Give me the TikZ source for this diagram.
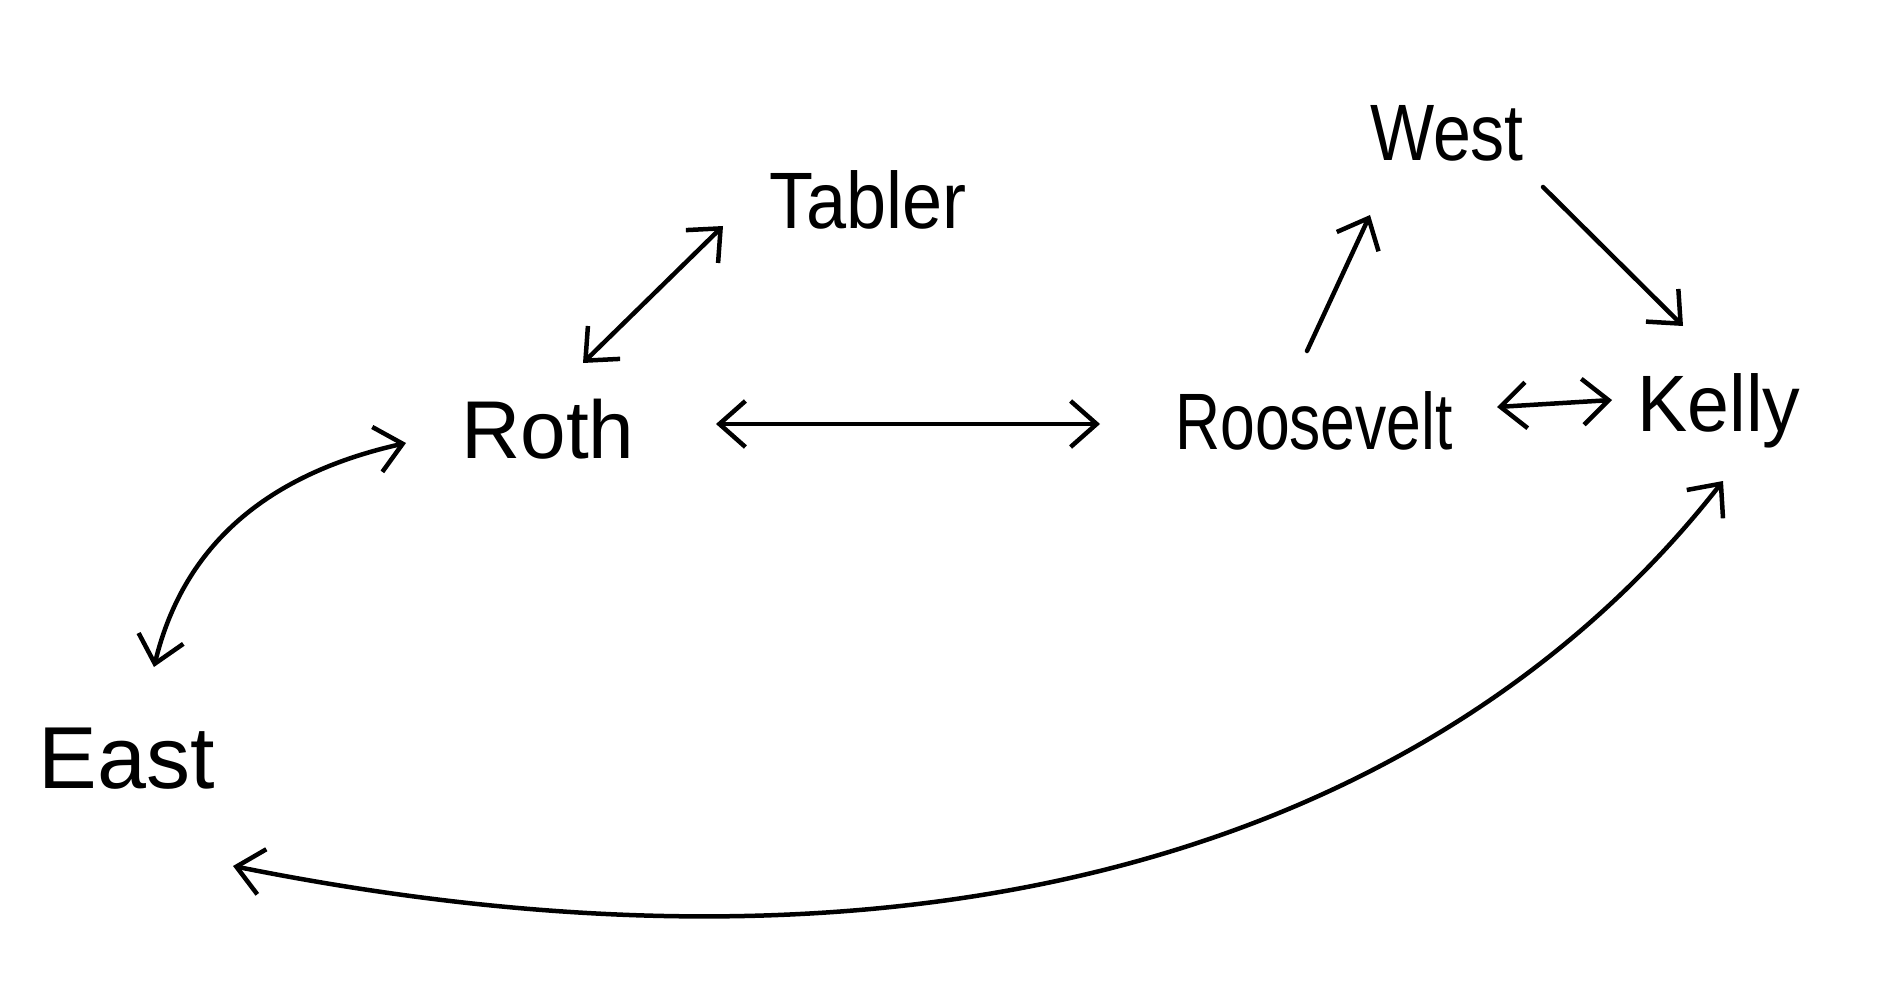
\documentclass[tikz,border=0pt]{standalone}
\usepackage{fontspec}
\setmainfont{Liberation Sans}
\usetikzlibrary{arrows.meta}
\newcommand\sqz[2]{\scalebox{#1}[1]{#2}}
\begin{document}
\begin{tikzpicture}[x=1pt,y=-1pt,
  lbl/.style={inner sep=0pt, font=\fontsize{#1}{#1}\selectfont},
  conn/.style={line width=4.5pt, line cap=round, line join=round},
  bi/.style={conn, {Straight Barb[length=26pt,width=46pt]}-{Straight Barb[length=26pt,width=46pt]}},
  uni/.style={conn, -{Straight Barb[length=26pt,width=46pt]}}]
\fill[white] (0,0) rectangle (1896,984);
\useasboundingbox (0,0) rectangle (1896,984);
\node[lbl=80] (tabler) at (868,200) {\sqz{0.9}{Tabler}};
\node[lbl=80] (west) at (1447,133) {\sqz{0.85}{West}};
\node[lbl=82] (roth) at (548,429) {Roth};
\node[lbl=80] (roosevelt) at (1314,421) {\sqz{0.78}{Roosevelt}};
\node[lbl=80] (kelly) at (1719,411) {\sqz{0.94}{Kelly}};
\node[lbl=88] (east) at (127,759) {East};
\coordinate (rt1) at (583,363); \coordinate (rt2) at (723,226);
\coordinate (rr1) at (716,424); \coordinate (rr2) at (1100,424);
\coordinate (rw1) at (1307,351); \coordinate (rw2) at (1370,215);
\coordinate (wk1) at (1543,187); \coordinate (wk2) at (1683,326);
\coordinate (rk1) at (1497,407); \coordinate (rk2) at (1612,400);
\coordinate (re1) at (406,443); \coordinate (re2) at (154,667);
\coordinate (ke1) at (1723,481); \coordinate (ke2) at (233,866);
\draw[bi] (rt1) -- (rt2);
\draw[bi] (rr1) -- (rr2);
\draw[uni] (rw1) -- (rw2);
\draw[uni] (wk1) -- (wk2);
\draw[bi] (rk1) -- (rk2);
\draw[bi] (re1) .. controls (250,478) and (180,560) .. (re2);
\draw[bi] (ke1) .. controls (1450,830) and (950,1010) .. (ke2);
\end{tikzpicture}
\end{document}
